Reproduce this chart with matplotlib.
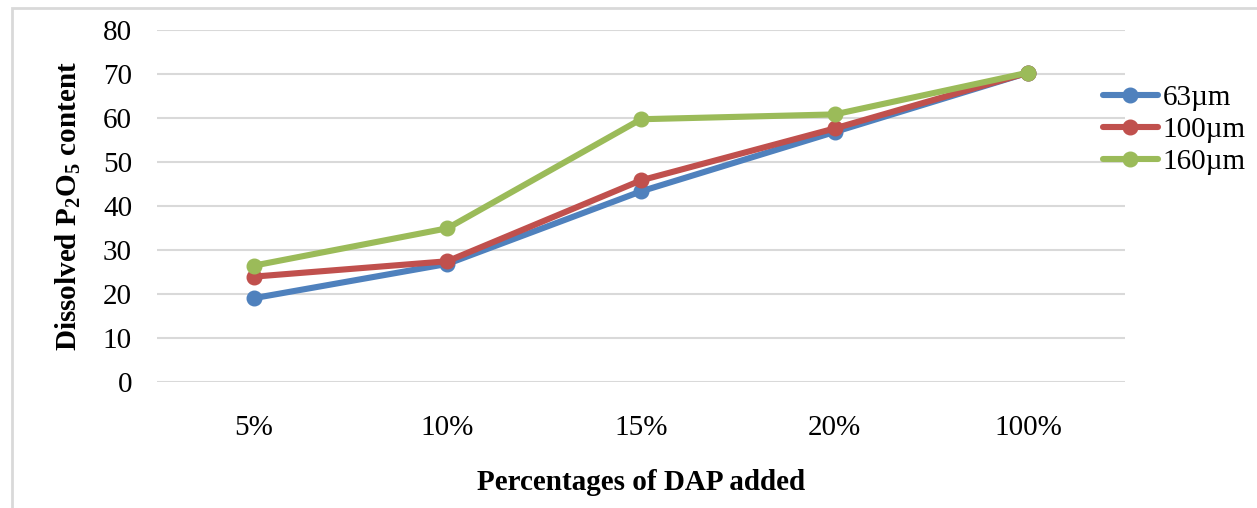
import numpy as np
import matplotlib.pyplot as plt
from matplotlib.patches import Rectangle

plt.rcParams['font.family'] = ['Liberation Serif', 'DejaVu Serif']
plt.rcParams['mathtext.fontset'] = 'custom'
plt.rcParams['mathtext.rm'] = 'Liberation Serif'
plt.rcParams['mathtext.bf'] = 'Liberation Serif:bold'

categories = ['5%', '10%', '15%', '20%', '100%']
s63 = [19.0, 26.8, 43.3, 56.8, 70.3]
s100 = [23.9, 27.4, 45.8, 57.6, 70.3]
s160 = [26.4, 34.9, 59.7, 60.8, 70.3]
series = [('63µm', s63, '#4F81BD'),
          ('100µm', s100, '#C0504D'),
          ('160µm', s160, '#9BBB59')]

fig = plt.figure(figsize=(12.57, 5.08), dpi=100)
ax = fig.add_axes([157 / 1257, 1 - 381.7 / 508, 968 / 1257, 351.7 / 508])

# outer chart border
fig.patches.append(Rectangle((12 / 1257, -0.1), 1.2, 1 - 8 / 508 + 0.1,
                             transform=fig.transFigure, fill=False,
                             edgecolor='#d9d9d9', linewidth=2))

x = np.arange(len(categories))
for name, vals, col in series:
    ax.plot(x, vals, color=col, lw=4.4, marker='o', ms=10.5, label=name,
            solid_capstyle='round')

ax.set_xlim(-0.5, 4.5)
ax.set_ylim(0, 80)
ax.set_yticks(range(0, 81, 10))
ax.set_xticks(x)
ax.set_xticklabels(categories)
ax.grid(axis='y', color='#d9d9d9', lw=1.5)
ax.set_axisbelow(True)
for sp in ax.spines.values():
    sp.set_visible(False)
ax.tick_params(length=0, labelsize=21)
ax.tick_params(axis='y', pad=18)
ax.tick_params(axis='x', pad=24)

ax.set_ylabel(r'Dissolved P$_\mathbf{2}$O$_\mathbf{5}$ content',
              fontsize=21, fontweight='bold', labelpad=14)
ax.set_xlabel('Percentages of DAP added', fontsize=21, fontweight='bold',
              labelpad=20)

ax.legend(loc='center left', bbox_to_anchor=(0.977, 0.716), frameon=False,
          fontsize=21, handlelength=1.9, handletextpad=0.15, labelspacing=0.2,
          borderaxespad=0, borderpad=0)

fig.savefig('out.png', dpi=100)
